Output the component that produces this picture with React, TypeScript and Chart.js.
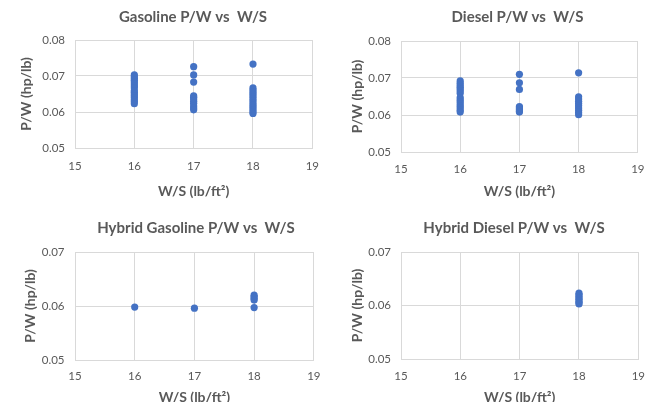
import React, { useEffect, useRef } from "react";
import { Chart, registerables } from "chart.js";

Chart.register(...registerables);

// ---------- data ----------
const wsTicks = [15, 16, 17, 18, 19];
const pwTicksTop = [0.05, 0.06, 0.07, 0.08];
const pwTicksBottom = [0.05, 0.06, 0.07];

const gasolineWS = [
  16, 16, 16, 16, 16, 16, 16, 16, 16, 16, 16, 16, 16, 16, 16, 16,
  17, 17, 17, 17, 17, 17, 17, 17, 17, 17, 17,
  18, 18, 18, 18, 18, 18, 18, 18, 18, 18, 18, 18, 18, 18,
];
const gasolinePW = [
  0.0703, 0.0698, 0.0693, 0.0688, 0.0683, 0.0678, 0.0672, 0.0667, 0.0659, 0.0655, 0.065, 0.0645, 0.064, 0.0634, 0.0629, 0.0623,
  0.0726, 0.0703, 0.0683, 0.0645, 0.0641, 0.0636, 0.063, 0.0624, 0.0617, 0.0611, 0.0606,
  0.0733, 0.0667, 0.0661, 0.0655, 0.0649, 0.0643, 0.0637, 0.0631, 0.0625, 0.0619, 0.0613, 0.0607, 0.0601, 0.0596,
];

const dieselWS = [
  16, 16, 16, 16, 16, 16, 16, 16, 16, 16, 16, 16, 16, 16, 16,
  17, 17, 17, 17, 17, 17, 17, 17,
  18, 18, 18, 18, 18, 18, 18, 18, 18, 18,
];
const dieselPW = [
  0.0692, 0.0686, 0.068, 0.0675, 0.067, 0.0665, 0.0659, 0.0647, 0.0641, 0.0636, 0.063, 0.0624, 0.0619, 0.0613, 0.0608,
  0.071, 0.0687, 0.0669, 0.0623, 0.0619, 0.0615, 0.0611, 0.0608,
  0.0714, 0.0649, 0.0643, 0.0637, 0.0631, 0.0625, 0.0619, 0.0613, 0.0607, 0.0601,
];

const hybridGasolineWS = [16, 17, 18, 18, 18, 18, 18];
const hybridGasolinePW = [0.0598, 0.0596, 0.062, 0.0617, 0.0614, 0.0611, 0.0597];

const hybridDieselWS = [18, 18, 18, 18, 18, 18, 18, 18];
const hybridDieselPW = [0.0623, 0.062, 0.0617, 0.0614, 0.0611, 0.0608, 0.0605, 0.0603];

// ---------- styling ----------
const FONT = "Lato, 'Open Sans', sans-serif";
const TEXT = "#595959";
const GRID = "#D9D9D9";
const DOT = "#4472C4";
const AXIS_TITLE_SIZE = 14;
const AXIS_TITLE_HALF = (AXIS_TITLE_SIZE * 1.2) / 2;

const panelTitle = {
  id: "panelTitle",
  afterDraw(chart: any, _args: any, opts: any) {
    if (!opts || !opts.text) return;
    const ctx = chart.ctx;
    ctx.save();
    ctx.font = `bold ${opts.size}px ${FONT}`;
    ctx.fillStyle = TEXT;
    ctx.textAlign = "center";
    ctx.textBaseline = "middle";
    ctx.fillText(opts.text, opts.x, opts.y);
    ctx.restore();
  },
};

type Geo = {
  left: number; top: number; w: number; h: number;
  areaLeft: number; areaTop: number; areaRight: number; areaBottom: number;
  titleX: number; titleY: number;
  yTitleX: number; yLabelGap: number; xLabelGap: number; xTitlePad: number;
};

function Panel(props: { title: string; xs: number[]; ys: number[]; yTicks: number[]; geo: Geo }) {
  const ref = useRef<HTMLCanvasElement>(null);
  const { title, xs, ys, yTicks, geo } = props;
  useEffect(() => {
    if (!ref.current) return;
    const points = xs.map((x, i) => ({ x, y: ys[i] }));
    const chart = new Chart(ref.current, {
      type: "scatter",
      data: {
        datasets: [
          {
            data: points,
            backgroundColor: DOT,
            borderColor: DOT,
            borderWidth: 0,
            pointRadius: 3.6,
          },
        ],
      },
      plugins: [panelTitle as any],
      options: {
        animation: false,
        responsive: false,
        devicePixelRatio: 1,
        layout: {
          padding: {
            left: 0,
            top: geo.areaTop,
            right: geo.w - geo.areaRight,
            bottom: 0,
          },
        },
        plugins: {
          legend: { display: false },
          tooltip: { enabled: false },
          panelTitle: { text: title, x: geo.titleX, y: geo.titleY, size: 15 },
        } as any,
        scales: {
          x: {
            type: "linear",
            min: wsTicks[0],
            max: wsTicks[wsTicks.length - 1],
            afterBuildTicks: (s: any) => {
              s.ticks = wsTicks.map((v) => ({ value: v }));
            },
            afterFit: (s: any) => {
              s.height = geo.h - geo.areaBottom;
            },
            ticks: {
              color: TEXT,
              font: { family: FONT, size: 11.5 },
              padding: geo.xLabelGap,
              callback: (v: any) => String(v),
            },
            grid: { color: GRID, lineWidth: 1, drawTicks: false },
            border: { display: true, color: GRID },
            title: {
              display: true,
              text: "W/S (lb/ft²)",
              color: TEXT,
              font: { family: FONT, size: AXIS_TITLE_SIZE, weight: "bold" },
              padding: { top: 0, bottom: geo.xTitlePad },
            },
          },
          y: {
            type: "linear",
            min: yTicks[0],
            max: yTicks[yTicks.length - 1],
            afterBuildTicks: (s: any) => {
              s.ticks = yTicks.map((v) => ({ value: v }));
            },
            afterFit: (s: any) => {
              s.width = geo.areaLeft;
            },
            ticks: {
              color: TEXT,
              font: { family: FONT, size: 11.5 },
              padding: geo.yLabelGap,
              callback: (v: any) => Number(v).toFixed(2),
            },
            grid: { color: GRID, lineWidth: 1, drawTicks: false },
            border: { display: true, color: GRID },
            title: {
              display: true,
              text: "P/W (hp/lb)",
              color: TEXT,
              font: { family: FONT, size: AXIS_TITLE_SIZE, weight: "bold" },
              padding: { top: geo.yTitleX - AXIS_TITLE_HALF, bottom: 0 },
            },
          },
        },
      },
    });
    return () => chart.destroy();
  }, []);
  return (
    <canvas
      ref={ref}
      width={geo.w}
      height={geo.h}
      style={{ position: "absolute", left: geo.left, top: geo.top, width: geo.w, height: geo.h }}
    />
  );
}

const geoGas: Geo = {
  left: 0, top: 0, w: 330, h: 200,
  areaLeft: 75, areaTop: 40, areaRight: 315, areaBottom: 148,
  titleX: 193, titleY: 17, yTitleX: 26.5, yLabelGap: 10, xLabelGap: 11, xTitlePad: 0,
};
const geoDiesel: Geo = {
  left: 330, top: 0, w: 325, h: 200,
  areaLeft: 71, areaTop: 41, areaRight: 312, areaBottom: 152,
  titleX: 187.5, titleY: 17, yTitleX: 27.5, yLabelGap: 10, xLabelGap: 10.5, xTitlePad: 0,
};
const geoHybGas: Geo = {
  left: 0, top: 200, w: 330, h: 212,
  areaLeft: 75, areaTop: 52, areaRight: 315, areaBottom: 160,
  titleX: 196, titleY: 28.5, yTitleX: 30, yLabelGap: 10.5, xLabelGap: 9.5, xTitlePad: 6.5,
};
const geoHybDiesel: Geo = {
  left: 330, top: 200, w: 325, h: 212,
  areaLeft: 71, areaTop: 52, areaRight: 312, areaBottom: 159,
  titleX: 184, titleY: 28.5, yTitleX: 27.5, yLabelGap: 10, xLabelGap: 10, xTitlePad: 6.5,
};

export default function App() {
  return (
    <div
      style={{
        position: "fixed",
        left: 0,
        top: 0,
        width: 655,
        height: 402,
        overflow: "hidden",
        background: "#ffffff",
      }}
    >
      <Panel title="Gasoline P/W vs  W/S" xs={gasolineWS} ys={gasolinePW} yTicks={pwTicksTop} geo={geoGas} />
      <Panel title="Diesel P/W vs  W/S" xs={dieselWS} ys={dieselPW} yTicks={pwTicksTop} geo={geoDiesel} />
      <Panel title="Hybrid Gasoline P/W vs  W/S" xs={hybridGasolineWS} ys={hybridGasolinePW} yTicks={pwTicksBottom} geo={geoHybGas} />
      <Panel title="Hybrid Diesel P/W vs  W/S" xs={hybridDieselWS} ys={hybridDieselPW} yTicks={pwTicksBottom} geo={geoHybDiesel} />
    </div>
  );
}
